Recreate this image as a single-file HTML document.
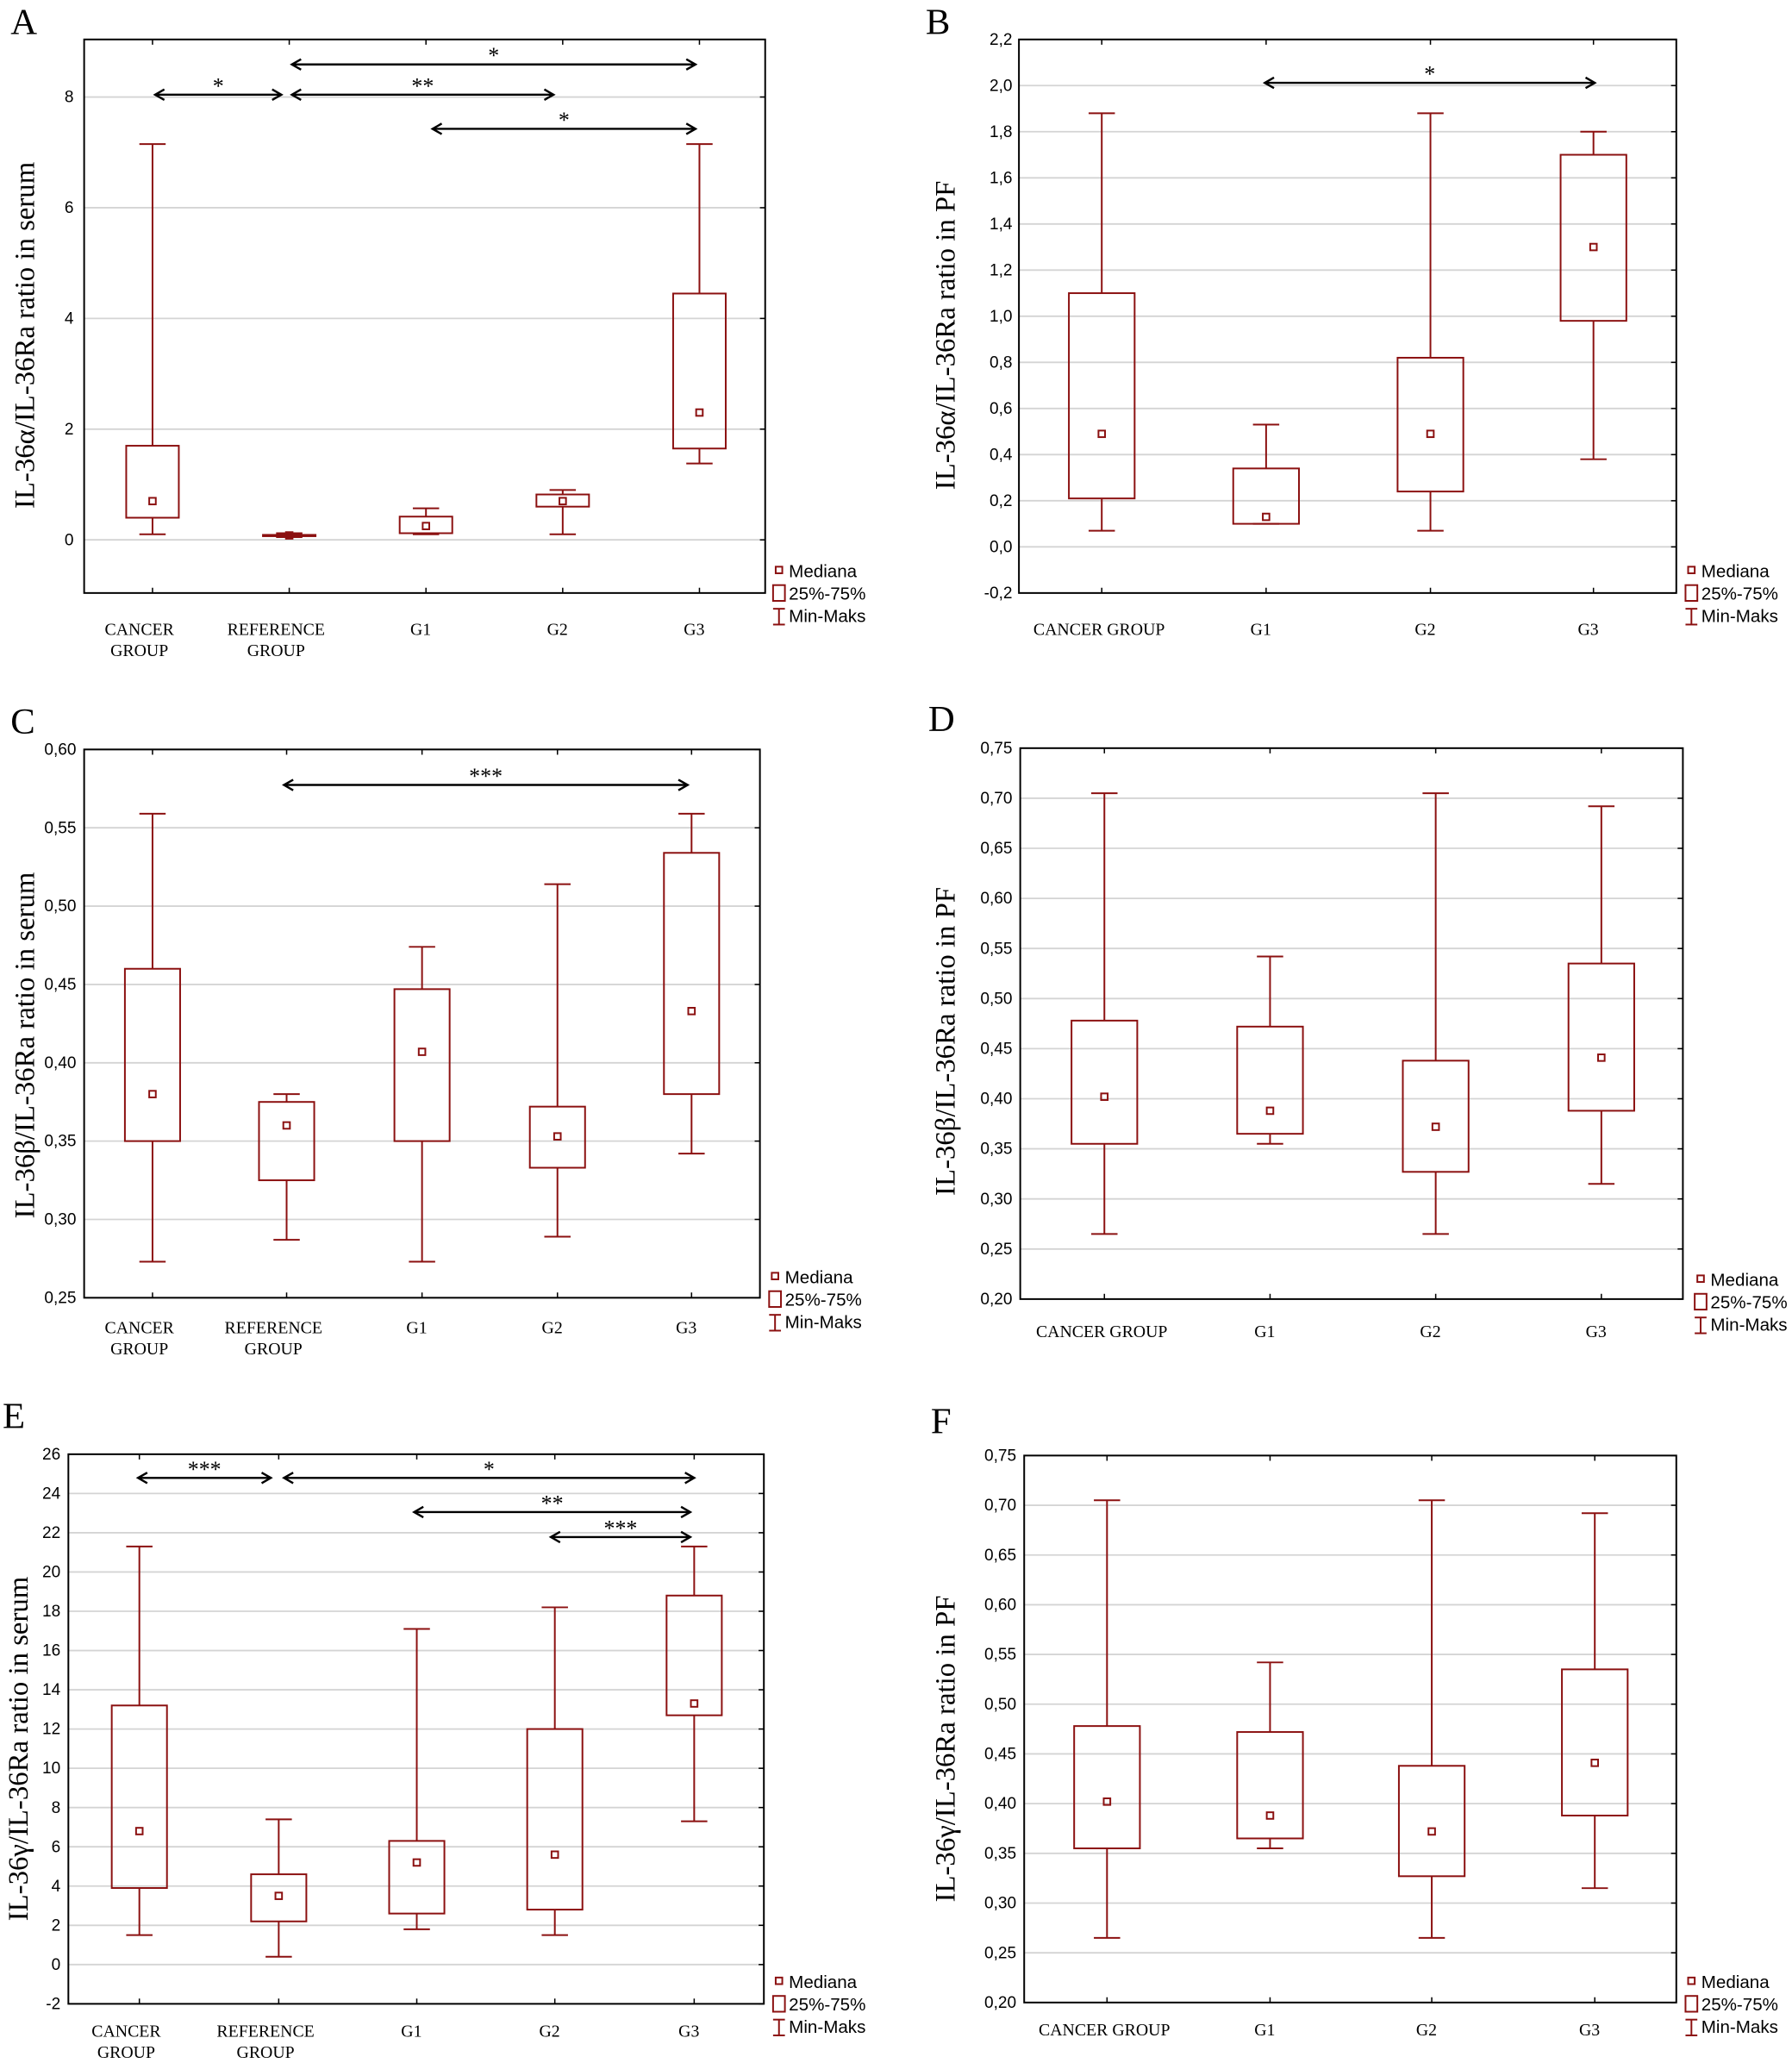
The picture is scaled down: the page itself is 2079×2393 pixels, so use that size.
<!DOCTYPE html>
<html><head><meta charset="utf-8"><style>html,body{margin:0;padding:0;background:#fff}svg{display:block}</style></head>
<body>
<svg id="s" xmlns="http://www.w3.org/2000/svg" width="2079" height="2393" viewBox="0 0 1363 1569" preserveAspectRatio="none"></svg>
<script>
const R='#8b1010';
const panels=[
{L:'A',lx:8,ly:26,x0:64,x1:582,y0:30,y1:451,vmax:9.04,vmin:-0.96,ticks:[0,2,4,6,8],fmt:v=>String(v),tx:56,
 title:'IL-36α/IL-36Ra ratio in serum',ttx:20,tty:255,cats:[116,220,324,428,532],
 labels:[['CANCER','GROUP'],['REFERENCE','GROUP'],['G1'],['G2'],['G3']],ly1:483,
 boxes:[[0.1,0.4,0.7,1.7,7.15],[0.05,0.07,0.08,0.09,0.12],[0.1,0.12,0.25,0.42,0.57],[0.1,0.6,0.7,0.82,0.9],[1.38,1.65,2.3,4.45,7.15]],hw:20,
 arrows:[[72,118,214,'*'],[72,222,421,'**'],[49,222,529,'*'],[98,329,529,'*']],leg:[589,434]},
{L:'B',lx:704,ly:26,x0:775,x1:1275,y0:30,y1:451,vmax:2.2,vmin:-0.2,ticks:[-0.2,0,0.2,0.4,0.6,0.8,1,1.2,1.4,1.6,1.8,2,2.2],fmt:v=>v.toFixed(1).replace('.',','),tx:770,
 title:'IL-36α/IL-36Ra ratio in PF',ttx:720,tty:255,cats:[838,963,1088,1212],
 labels:[['CANCER GROUP'],['G1'],['G2'],['G3']],ly1:483,
 boxes:[[0.07,0.21,0.49,1.1,1.88],[0.1,0.1,0.13,0.34,0.53],[0.07,0.24,0.49,0.82,1.88],[0.38,0.98,1.3,1.7,1.8]],hw:25,
 arrows:[[63,962,1213,'*']],leg:[1283,434]},
{L:'C',lx:8,ly:558,x0:64,x1:578,y0:570,y1:987,vmax:0.6,vmin:0.25,ticks:[0.25,0.3,0.35,0.4,0.45,0.5,0.55,0.6],fmt:v=>v.toFixed(2).replace('.',','),tx:58,
 title:'IL-36β/IL-36Ra ratio in serum',ttx:20,tty:795,cats:[116,218,321,424,526],
 labels:[['CANCER','GROUP'],['REFERENCE','GROUP'],['G1'],['G2'],['G3']],ly1:1014,
 boxes:[[0.273,0.35,0.38,0.46,0.559],[0.287,0.325,0.36,0.375,0.38],[0.273,0.35,0.407,0.447,0.474],[0.289,0.333,0.353,0.372,0.514],[0.342,0.38,0.433,0.534,0.559]],hw:21,
 arrows:[[597,216,523,'***']],leg:[586,971]},
{L:'D',lx:706,ly:556,x0:776,x1:1280,y0:569,y1:988,vmax:0.75,vmin:0.2,ticks:[0.2,0.25,0.3,0.35,0.4,0.45,0.5,0.55,0.6,0.65,0.7,0.75],fmt:v=>v.toFixed(2).replace('.',','),tx:770,
 title:'IL-36β/IL-36Ra ratio in PF',ttx:720,tty:792,cats:[840,966,1092,1218],
 labels:[['CANCER GROUP'],['G1'],['G2'],['G3']],ly1:1017,
 boxes:[[0.265,0.355,0.402,0.478,0.705],[0.355,0.365,0.388,0.472,0.542],[0.265,0.327,0.372,0.438,0.705],[0.315,0.388,0.441,0.535,0.692]],hw:25,
 arrows:[],leg:[1290,973]},
{L:'E',lx:2,ly:1086,x0:52,x1:581,y0:1106,y1:1524,vmax:26,vmin:-2,ticks:[-2,0,2,4,6,8,10,12,14,16,18,20,22,24,26],fmt:v=>String(v),tx:46,
 title:'IL-36γ/IL-36Ra ratio in serum',ttx:15,tty:1330,cats:[106,212,317,422,528],
 labels:[['CANCER','GROUP'],['REFERENCE','GROUP'],['G1'],['G2'],['G3']],ly1:1549,
 boxes:[[1.5,3.9,6.8,13.2,21.3],[0.4,2.2,3.5,4.6,7.4],[1.8,2.6,5.2,6.3,17.1],[1.5,2.8,5.6,12,18.2],[7.3,12.7,13.3,18.8,21.3]],hw:21,
 arrows:[[1124,105,206,'***'],[1124,216,528,'*'],[1150,315,525,'**'],[1169,419,525,'***']],leg:[589,1507]},
{L:'F',lx:708,ly:1090,x0:779,x1:1275,y0:1107,y1:1523,vmax:0.75,vmin:0.2,ticks:[0.2,0.25,0.3,0.35,0.4,0.45,0.5,0.55,0.6,0.65,0.7,0.75],fmt:v=>v.toFixed(2).replace('.',','),tx:773,
 title:'IL-36γ/IL-36Ra ratio in PF',ttx:720,tty:1330,cats:[842,966,1089,1213],
 labels:[['CANCER GROUP'],['G1'],['G2'],['G3']],ly1:1548,
 boxes:[[0.265,0.355,0.402,0.478,0.705],[0.355,0.365,0.388,0.472,0.542],[0.265,0.327,0.372,0.438,0.705],[0.315,0.388,0.441,0.535,0.692]],hw:25,
 arrows:[],leg:[1283,1507]}
];
let o='';
for(const p of panels){
 const Y=v=>p.y0+(p.vmax-v)/(p.vmax-p.vmin)*(p.y1-p.y0);
 o+=`<text x="${p.lx}" y="${p.ly}" font-family="Liberation Serif,serif" font-size="28">${p.L}</text>`;
 for(const t of p.ticks){const y=Y(t);
  o+=`<line x1="${p.x0}" x2="${p.x1}" y1="${y}" y2="${y}" stroke="#d4d4d4" stroke-width="1.2"/>`;
  o+=`<line x1="${p.x1-4}" x2="${p.x1}" y1="${y}" y2="${y}" stroke="#000"/>`;
  o+=`<text x="${p.tx}" y="${y+4}" text-anchor="end" font-family="Liberation Sans,sans-serif" font-size="12.5">${p.fmt(t)}</text>`;}
 o+=`<rect x="${p.x0}" y="${p.y0}" width="${p.x1-p.x0}" height="${p.y1-p.y0}" fill="none" stroke="#000" stroke-width="1.3"/>`;
 p.cats.forEach((c,i)=>{
  o+=`<line x1="${c}" x2="${c}" y1="${p.y0}" y2="${p.y0+4}" stroke="#000"/><line x1="${c}" x2="${c}" y1="${p.y1}" y2="${p.y1-4}" stroke="#000"/>`;
  const multi=p.labels[i].length>1;
  p.labels[i].forEach((l,j)=>{o+=`<text x="${c+(multi?-10:(l.length<3?-4:-2))}" y="${p.ly1+j*16}" text-anchor="middle" font-family="Liberation Serif,serif" font-size="13">${l}</text>`;});
  const [mn,q1,md,q3,mx]=p.boxes[i];const w=p.hw;
  o+=`<g stroke="${R}" stroke-width="1.3" fill="none"><line x1="${c}" x2="${c}" y1="${Y(mx)}" y2="${Y(q3)}"/><line x1="${c}" x2="${c}" y1="${Y(q1)}" y2="${Y(mn)}"/>`+
   `<line x1="${c-10}" x2="${c+10}" y1="${Y(mx)}" y2="${Y(mx)}"/><line x1="${c-10}" x2="${c+10}" y1="${Y(mn)}" y2="${Y(mn)}"/>`+
   `<rect x="${c-w}" y="${Y(q3)}" width="${2*w}" height="${Math.max(1,Y(q1)-Y(q3))}"/><rect x="${c-2.5}" y="${Y(md)-2.5}" width="5" height="5"/></g>`;
 });
 for(const [y,a,b,s] of p.arrows){
  o+=`<g stroke="#000" stroke-width="1.6" fill="none"><line x1="${a}" x2="${b}" y1="${y}" y2="${y}"/><polyline points="${a+7},${y-4} ${a},${y} ${a+7},${y+4}"/><polyline points="${b-7},${y-4} ${b},${y} ${b-7},${y+4}"/></g>`;
  o+=`<text x="${(a+b)/2}" y="${y-1}" text-anchor="middle" font-family="Liberation Serif,serif" font-size="17">${s}</text>`;}
 o+=`<text transform="translate(${p.ttx+6},${p.tty}) rotate(-90)" text-anchor="middle" font-family="Liberation Serif,serif" font-size="21.5">${p.title}</text>`;
 const [lx,ly]=p.leg;
 o+=`<g stroke="${R}" stroke-width="1.3" fill="none"><rect x="${lx+1}" y="${ly-3}" width="5" height="5"/><rect x="${lx-1}" y="${ly+11}" width="9" height="12"/><line x1="${lx+3.5}" x2="${lx+3.5}" y1="${ly+29}" y2="${ly+41}"/><line x1="${lx-1}" x2="${lx+8}" y1="${ly+29}" y2="${ly+29}"/><line x1="${lx-1}" x2="${lx+8}" y1="${ly+41}" y2="${ly+41}"/></g>`;
 ['Mediana','25%-75%','Min-Maks'].forEach((t,i)=>{o+=`<text x="${lx+11}" y="${ly+5+i*17}" font-family="Liberation Sans,sans-serif" font-size="13.5">${t}</text>`;});
}
document.getElementById('s').innerHTML=o;
</script>
</body></html>
